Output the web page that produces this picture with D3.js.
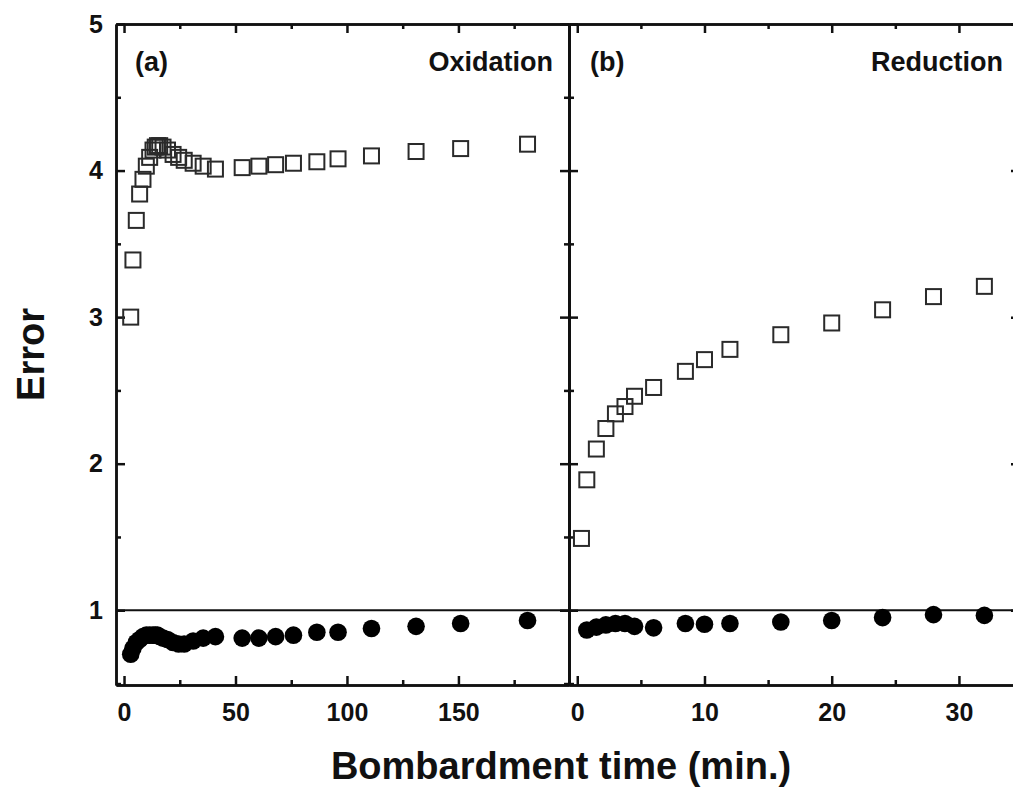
<!DOCTYPE html>
<html>
<head>
<meta charset="utf-8">
<script src="https://cdn.jsdelivr.net/npm/d3@7"></script>
<style>
  body { margin: 0; background: #fff; }
  svg { display: block; }
  text { font-family: "Liberation Sans", Arial, sans-serif; font-weight: bold; fill: #111; }
</style>
</head>
<body>
<div id="chart"></div>
<script>
// data //
// (a) oxidation
const oxTime   = [3, 4, 5.5, 7, 8.5, 10, 11.5, 13, 14, 15, 16, 17.5, 19.5, 22, 24.5, 27, 31, 35.5, 41, 53, 60.5, 68, 76, 86.5, 96, 111, 131, 151, 181];
const oxOpen   = [3.00, 3.39, 3.66, 3.84, 3.94, 4.03, 4.09, 4.14, 4.16, 4.17, 4.17, 4.16, 4.14, 4.11, 4.09, 4.07, 4.05, 4.03, 4.01, 4.02, 4.03, 4.04, 4.05, 4.06, 4.08, 4.10, 4.13, 4.15, 4.18];
const oxFilled = [0.70, 0.74, 0.78, 0.80, 0.82, 0.83, 0.83, 0.83, 0.83, 0.83, 0.82, 0.81, 0.80, 0.78, 0.77, 0.77, 0.79, 0.81, 0.82, 0.81, 0.81, 0.82, 0.83, 0.85, 0.85, 0.875, 0.89, 0.91, 0.93];

// (b) reduction
const redTime   = [0.33, 0.75, 1.5, 2.25, 3, 3.75, 4.5, 6, 8.5, 10, 12, 16, 20, 24, 28, 32];
const redOpen   = [1.49, 1.89, 2.10, 2.24, 2.34, 2.39, 2.46, 2.52, 2.63, 2.71, 2.78, 2.88, 2.96, 3.05, 3.14, 3.21];
const redTimeF  = [0.75, 1.5, 2.25, 3, 3.75, 4.5, 6, 8.5, 10, 12, 16, 20, 24, 28, 32];
const redFilled = [0.865, 0.885, 0.90, 0.91, 0.91, 0.89, 0.88, 0.91, 0.905, 0.91, 0.92, 0.93, 0.95, 0.97, 0.965];

const yTicks = [1, 2, 3, 4, 5];

const W = 1013, H = 792;
const plotTop = 24, plotBottom = 685;

const svg = d3.select("#chart").append("svg")
  .attr("width", W)
  .attr("height", H);

const y = d3.scaleLinear().domain([0.49, 5]).range([plotBottom, plotTop]);

const panels = [
  { x0: 116, x1: 569, domain: [-3.6, 199.6], major: [0, 50, 100, 150], minorStep: 25,
    time: oxTime, open: oxOpen, timeF: oxTime, filled: oxFilled,
    tag: "(a)", tagX: 135, name: "Oxidation", nameX: 553 },
  { x0: 569, x1: 1020, domain: [-0.65, 34.8], major: [0, 10, 20, 30], minorStep: 5,
    time: redTime, open: redOpen, timeF: redTimeF, filled: redFilled,
    tag: "(b)", tagX: 590, name: "Reduction", nameX: 1003 }
];

const yMinor = d3.range(0.5, 5.01, 0.5).filter(v => !yTicks.includes(v));

function styleAxis(g) {
  g.select(".domain").attr("stroke", "#111").attr("stroke-width", 2.5);
  g.selectAll(".tick line").attr("stroke", "#111").attr("stroke-width", 2.5);
  g.selectAll(".tick text").style("font-size", "25px").attr("fill", "#111");
}

panels.forEach((p, i) => {
  const x = d3.scaleLinear().domain(p.domain).range([p.x0, p.x1]);
  const minor = d3.range(0, p.domain[1], p.minorStep).filter(v => !p.major.includes(v));

  // bottom axis
  svg.append("g")
    .attr("transform", `translate(0,${plotBottom})`)
    .call(d3.axisBottom(x).tickValues(p.major).tickSizeInner(-9).tickSizeOuter(0).tickPadding(18))
    .call(styleAxis);
  svg.append("g")
    .attr("transform", `translate(0,${plotBottom})`)
    .call(d3.axisBottom(x).tickValues(minor).tickSizeInner(-5).tickSizeOuter(0).tickFormat(""))
    .call(styleAxis);

  // top axis
  svg.append("g")
    .attr("transform", `translate(0,${plotTop})`)
    .call(d3.axisTop(x).tickValues(p.major).tickSizeInner(-9).tickSizeOuter(0).tickFormat(""))
    .call(styleAxis);
  svg.append("g")
    .attr("transform", `translate(0,${plotTop})`)
    .call(d3.axisTop(x).tickValues(minor).tickSizeInner(-5).tickSizeOuter(0).tickFormat(""))
    .call(styleAxis);

  // left axis (labels only on the first panel)
  const left = d3.axisLeft(y).tickValues(yTicks).tickSizeInner(-9).tickSizeOuter(0)
    .tickPadding(13).tickFormat(d3.format("d"));
  if (i > 0) left.tickFormat("");
  svg.append("g")
    .attr("transform", `translate(${p.x0},0)`)
    .call(left)
    .call(styleAxis);
  svg.append("g")
    .attr("transform", `translate(${p.x0},0)`)
    .call(d3.axisLeft(y).tickValues(yMinor).tickSizeInner(-5).tickSizeOuter(0).tickFormat(""))
    .call(styleAxis);

  // right axis
  svg.append("g")
    .attr("transform", `translate(${p.x1},0)`)
    .call(d3.axisRight(y).tickValues(yTicks).tickSizeInner(-9).tickSizeOuter(0).tickFormat(""))
    .call(styleAxis);
  svg.append("g")
    .attr("transform", `translate(${p.x1},0)`)
    .call(d3.axisRight(y).tickValues(yMinor).tickSizeInner(-5).tickSizeOuter(0).tickFormat(""))
    .call(styleAxis);

  // reference line at Error = 1
  svg.append("line")
    .attr("x1", p.x0).attr("x2", p.x1)
    .attr("y1", y(1)).attr("y2", y(1))
    .attr("stroke", "#111")
    .attr("stroke-width", 2);

  // open squares
  const s = 15;
  svg.append("g").selectAll("rect")
    .data(p.time.map((t, k) => ({ t, v: p.open[k] })))
    .join("rect")
    .attr("x", d => x(d.t) - s / 2)
    .attr("y", d => y(d.v) - s / 2)
    .attr("width", s)
    .attr("height", s)
    .attr("fill", "none")
    .attr("stroke", "#2a2a2a")
    .attr("stroke-width", 2);

  // filled circles
  svg.append("g").selectAll("circle")
    .data(p.timeF.map((t, k) => ({ t, v: p.filled[k] })))
    .join("circle")
    .attr("cx", d => x(d.t))
    .attr("cy", d => y(d.v))
    .attr("r", 8.8)
    .attr("fill", "#000");

  // panel labels
  svg.append("text")
    .attr("x", p.tagX)
    .attr("y", 71)
    .style("font-size", "27px")
    .text(p.tag);
  svg.append("text")
    .attr("x", p.nameX)
    .attr("y", 71)
    .attr("text-anchor", "end")
    .style("font-size", "27px")
    .text(p.name);
});

// axis titles
svg.append("text")
  .attr("text-anchor", "middle")
  .attr("transform", `translate(44,${(plotTop + plotBottom) / 2}) rotate(-90)`)
  .style("font-size", "38px")
  .text("Error");

svg.append("text")
  .attr("x", 561)
  .attr("y", 779)
  .attr("text-anchor", "middle")
  .style("font-size", "38px")
  .text("Bombardment time (min.)");
</script>
</body>
</html>
